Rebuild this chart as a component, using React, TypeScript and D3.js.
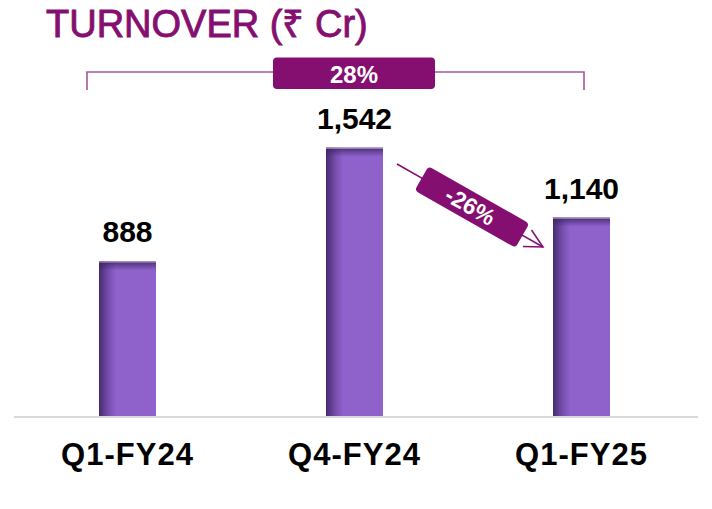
import React from "react";
import * as d3 from "d3";

const categories = ["Q1-FY24", "Q4-FY24", "Q1-FY25"];
const turnover = [888, 1542, 1140];
const valueLabels = ["888", "1,542", "1,140"];
const title = "TURNOVER (₹ Cr)";
const cagrLabel = "28%";
const qoqLabel = "-26%";

const W = 712;
const H = 509;
const BASE = 416;

export default function App() {
  const x = d3
    .scaleBand<string>()
    .domain(categories)
    .range([14, 695])
    .paddingInner(0.749)
    .paddingOuter(0.3745);
  const y = d3.scaleLinear().domain([0, 2000]).range([BASE, 68]);
  const bw = x.bandwidth();
  const font = "'Liberation Sans', Arial, Helvetica, sans-serif";
  const purple = "#850f70";

  // -26% arrow annotation
  const ax1 = 397, ay1 = 164, ax2 = 543, ay2 = 247;
  const ang = (Math.atan2(ay2 - ay1, ax2 - ax1) * 180) / Math.PI;
  const bcx = 472, bcy = 207;

  return (
    <svg
      width={W}
      height={H}
      style={{ position: "fixed", left: 0, top: 0, background: "#fff" }}
      fontFamily={font}
    >
      <defs>
        <linearGradient id="leftShade" x1="0" x2="1" y1="0" y2="0">
          <stop offset="0" stopColor="#3b2160" stopOpacity="0.85" />
          <stop offset="0.18" stopColor="#3b2160" stopOpacity="0.25" />
          <stop offset="0.3" stopColor="#3b2160" stopOpacity="0" />
          <stop offset="1" stopColor="#3b2160" stopOpacity="0" />
        </linearGradient>
        <linearGradient id="topShade" x1="0" x2="0" y1="0" y2="1">
          <stop offset="0" stopColor="#3b2160" stopOpacity="0.8" />
          <stop offset="1" stopColor="#3b2160" stopOpacity="0" />
        </linearGradient>
        <linearGradient id="topLine" x1="0" x2="1" y1="0" y2="0">
          <stop offset="0" stopColor="#8a8a8a" />
          <stop offset="0.45" stopColor="#e6e6e6" />
          <stop offset="0.75" stopColor="#9a9a9a" />
          <stop offset="1" stopColor="#9a9a9a" />
        </linearGradient>
      </defs>

      {/* title */}
      <text
        x={46}
        y={37}
        fontSize={38}
        fill={purple}
        stroke={purple}
        strokeWidth={0.9}
      >
        {title}
      </text>
      <line x1={456} x2={712} y1={23.5} y2={23.5} stroke="url(#topLine)" strokeWidth={2} />

      {/* bracket 28% */}
      <path
        d="M87,90 L87,72 L584,72 L584,90"
        fill="none"
        stroke="#a8559c"
        strokeWidth={1.6}
      />
      <rect x={273} y={57.5} width={162} height={31.5} rx={4} fill={purple} />
      <text x={354} y={82.5} fontSize={24} fontWeight="bold" fill="#fff" textAnchor="middle">
        {cagrLabel}
      </text>

      {/* bars */}
      {categories.map((c, i) => {
        const bx = x(c)!;
        const by = y(turnover[i]);
        const bh = BASE - by;
        return (
          <g key={c}>
            <rect x={bx} y={by} width={bw} height={bh} fill="#8e61cb" />
            <rect x={bx} y={by} width={bw} height={bh} fill="url(#leftShade)" />
            <rect x={bx} y={by} width={bw} height={9} fill="url(#topShade)" />
            <line x1={bx} x2={bx + bw} y1={by + 0.5} y2={by + 0.5} stroke="#b7a6c9" strokeWidth={1} />
            <text
              x={bx + bw / 2}
              y={by - 19}
              fontSize={30}
              fontWeight="bold"
              textAnchor="middle"
              fill="#000"
            >
              {valueLabels[i]}
            </text>
            <text
              x={bx + bw / 2}
              y={465}
              fontSize={31}
              fontWeight="bold"
              letterSpacing={1}
              textAnchor="middle"
              fill="#000"
            >
              {c}
            </text>
          </g>
        );
      })}

      {/* baseline */}
      <line x1={14} x2={698} y1={BASE + 1} y2={BASE + 1} stroke="#d9d9d9" strokeWidth={2} />

      {/* -26% arrow */}
      <line x1={ax1} y1={ay1} x2={ax2} y2={ay2} stroke={purple} strokeWidth={1.5} />
      <path
        d={`M531.5,230 L${ax2},${ay2} L523,246.5`}
        fill="none"
        stroke={purple}
        strokeWidth={1.5}
      />
      <g transform={`translate(${bcx},${bcy}) rotate(${ang})`}>
        <rect x={-58} y={-14} width={116} height={28} rx={4} fill={purple} />
        <text x={-2} y={8} fontSize={23} fontWeight="bold" fill="#fff" textAnchor="middle">
          {qoqLabel}
        </text>
      </g>
    </svg>
  );
}
